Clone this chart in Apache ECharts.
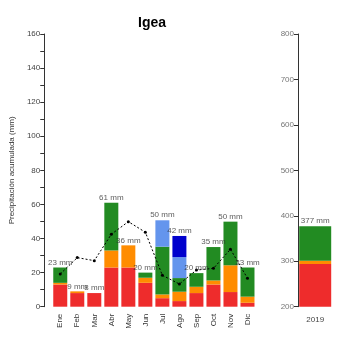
<!DOCTYPE html>
<html>
<head>
<meta charset="utf-8">
<script src="https://cdn.jsdelivr.net/npm/echarts@6/dist/echarts.min.js"></script>
<style>
  html, body { margin: 0; padding: 0; background: #fff; }
  #chart { width: 350px; height: 350px; }
</style>
</head>
<body>
<div id="chart"></div>
<script>
// monthly accumulated precipitation, stacked by rain type
const months = ["Ene", "Feb", "Mar", "Abr", "May", "Jun", "Jul", "Ago", "Sep", "Oct", "Nov", "Dic"];
const red = [13, 8, 8, 23, 23, 14, 5, 3.3, 8, 13, 8.6, 2.3];
const orange = [1, 1, 0, 10, 13, 3, 2.2, 5.5, 3.7, 2.4, 15.7, 3.6];
const green = [9, 0, 0, 28, 0, 3, 28, 8, 8, 19.6, 25.6, 17.1];
const lightBlue = [0, 0, 0, 0, 0, 0, 15.5, 12.3, 0, 0, 0, 0];
const darkBlue = [0, 0, 0, 0, 0, 0, 0, 12.4, 0, 0, 0, 0];
const monthLabels = ["23 mm", "9 mm", "8 mm", "61 mm", "36 mm", "20 mm", "50 mm", "42 mm", "20 mm", "35 mm", "50 mm", "23 mm"];
// dotted reference line (mean)
const meanLine = [19.2, 28.8, 27, 42.5, 49.9, 43.7, 18.4, 13.3, 21.5, 22.5, 33.7, 16.7];

// yearly total
const years = ["2019"];
const yearRed = [294];
const yearOrange = [7];
const yearGreen = [76];
const yearLabels = ["377 mm"];

const colors = { red: "#EE2C2C", orange: "#FF8C00", green: "#228B22", light: "#6495ED", blue: "#0000CD" };
const font = "Liberation Sans, Arial, sans-serif";

const totals = months.map((_, i) => red[i] + orange[i] + green[i] + lightBlue[i] + darkBlue[i]);
const yearTotals = years.map((_, i) => yearRed[i] + yearOrange[i] + yearGreen[i]);

function stackBar(data, color, axis, stack, width) {
  return {
    type: "bar", stack: stack, data: data, xAxisIndex: axis, yAxisIndex: axis,
    barWidth: width, itemStyle: { color: color }, silent: true,
  };
}

function labelSeries(values, labels, axis) {
  return {
    type: "scatter", data: values, xAxisIndex: axis, yAxisIndex: axis,
    symbolSize: 0, silent: true, z: 5,
    label: {
      show: true, position: "top", distance: 1,
      fontSize: 8, fontFamily: font, color: "#333",
      formatter: (p) => labels[p.dataIndex],
    },
  };
}

const chart = echarts.init(document.getElementById("chart"));
chart.setOption({
  animation: false,
  title: {
    text: "Igea", left: 133, top: 11,
    textStyle: { fontSize: 14, fontWeight: "bold", fontFamily: font, color: "#000" },
  },
  grid: [
    { left: 41, top: 34, width: 215, bottom: 43.3 },
    { left: 298, top: 34, width: 34.4, bottom: 43.3 },
  ],
  xAxis: [
    {
      type: "category", data: months, gridIndex: 0,
      axisLine: { show: false }, axisTick: { show: false },
      axisLabel: { rotate: 90, fontSize: 8, fontFamily: font, color: "#333", margin: 7 },
    },
    {
      type: "category", data: years, gridIndex: 1,
      axisLine: { show: false }, axisTick: { show: false },
      axisLabel: { fontSize: 8, fontFamily: font, color: "#444", margin: 9 },
    },
  ],
  yAxis: [
    {
      type: "value", gridIndex: 0, min: 0, max: 160, interval: 20, offset: 7.5,
      name: "Precipitación acumulada (mm)", nameLocation: "middle", nameGap: 26,
      nameTextStyle: { fontSize: 8, fontFamily: font, color: "#333" },
      axisLine: { show: true, lineStyle: { color: "#333" } },
      axisTick: { show: true, length: 4, lineStyle: { color: "#333" } },
      minorTick: { show: true, splitNumber: 2, length: 4, lineStyle: { color: "#333" } },
      splitLine: { show: false },
      axisLabel: { fontSize: 8, fontFamily: font, color: "#444", margin: 4 },
    },
    {
      type: "value", gridIndex: 1, min: 200, max: 800, interval: 100,
      axisLine: { show: true, lineStyle: { color: "#333" } },
      axisTick: { show: true, length: 4, lineStyle: { color: "#333" } },
      splitLine: { show: false },
      axisLabel: { fontSize: 8, fontFamily: font, color: "#777", margin: 4 },
    },
  ],
  series: [
    stackBar(red, colors.red, 0, "m", 14),
    stackBar(orange, colors.orange, 0, "m", 14),
    stackBar(green, colors.green, 0, "m", 14),
    stackBar(lightBlue, colors.light, 0, "m", 14),
    stackBar(darkBlue, colors.blue, 0, "m", 14),
    {
      type: "line", data: meanLine, xAxisIndex: 0, yAxisIndex: 0, z: 4,
      symbol: "circle", symbolSize: 3, itemStyle: { color: "#000" },
      lineStyle: { color: "#000", width: 1, type: [2, 2] }, silent: true,
    },
    labelSeries(totals, monthLabels, 0),
    stackBar(yearRed, colors.red, 1, "y", 32),
    stackBar(yearOrange, colors.orange, 1, "y", 32),
    stackBar(yearGreen, colors.green, 1, "y", 32),
    labelSeries(yearTotals, yearLabels, 1),
  ],
});
</script>
</body>
</html>
